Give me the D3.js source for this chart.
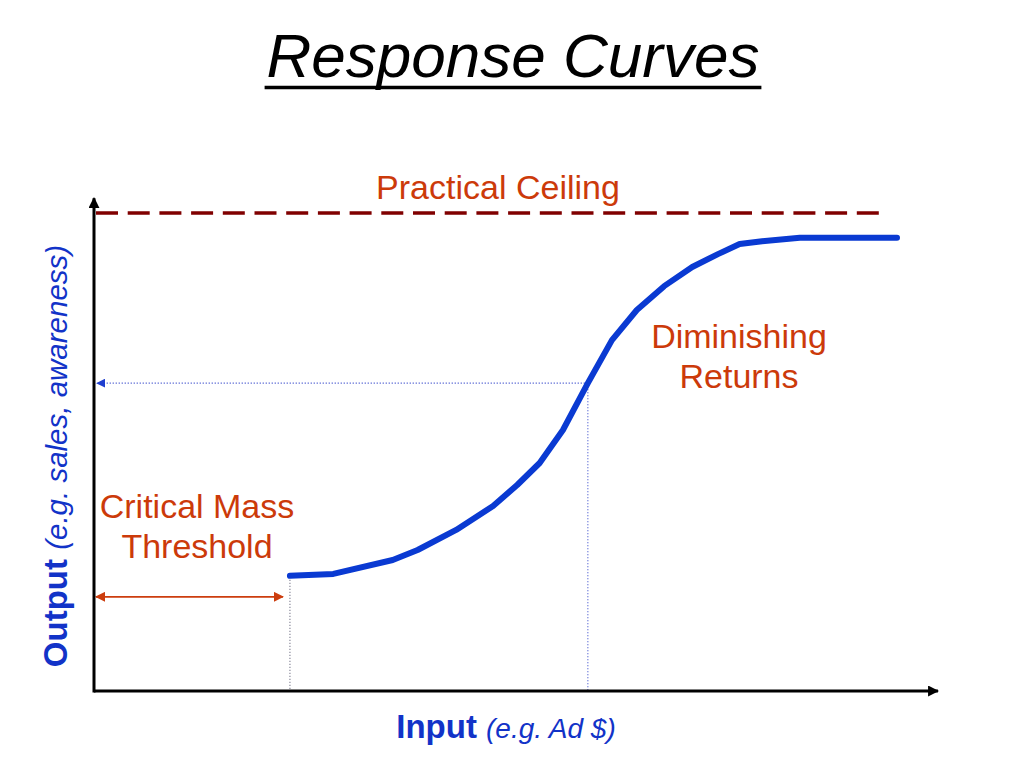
<!DOCTYPE html>
<html>
<head>
<meta charset="utf-8">
<script src="https://cdn.jsdelivr.net/npm/d3@7"></script>
<style>
  body { margin: 0; background: #fff; }
  text { font-family: "Liberation Sans", Arial, Helvetica, sans-serif; }
</style>
</head>
<body>
<div id="chart"></div>
<script>
// curve points (input 0-100, output 0-100, ceiling = 100)
var inputVals  = [24.4, 29.8, 37.2, 40.3, 45.1, 49.7, 52.7, 55.5, 58.4, 61.5, 64.5, 67.6, 71.0, 74.5, 77.7, 80.4, 83.2, 87.9, 100];
var outputVals = [24.1, 24.5, 27.4, 29.5, 33.7, 38.7, 43.1, 47.7, 54.6, 64.4, 73.4, 79.7, 84.7, 88.7, 91.4, 93.5, 94.1, 94.8, 94.8];
var ceilingVal = 100;
var thresholdInput = 24.4;
var thresholdArrowY = 19.7;
var diminishInput = 61.5;
var diminishOutput = 64.4;
var xAxisMax = 105.1;
var yAxisMax = 103.1;
var ceilingEnd = 98.3;

var width = 1024;
var height = 768;

var svg = d3.select('#chart')
    .append('svg')
    .attr('width', width)
    .attr('height', height);

var x = d3.scaleLinear().domain([0, 100]).range([94, 897]);
var y = d3.scaleLinear().domain([0, 100]).range([691, 213]);

// arrow heads
var defs = svg.append('defs');
function marker(id, color, size, orient) {
    defs.append('marker')
        .attr('id', id)
        .attr('viewBox', '0 0 10 10')
        .attr('refX', 9)
        .attr('refY', 5)
        .attr('markerUnits', 'userSpaceOnUse')
        .attr('markerWidth', size)
        .attr('markerHeight', size)
        .attr('orient', orient)
        .append('path')
        .attr('d', 'M0,0 L10,5 L0,10 Z')
        .attr('fill', color);
}
marker('arrowBlack', '#000', 11, 'auto');
marker('arrowRed', '#cc3d0e', 10, 'auto-start-reverse');
marker('arrowBlue', '#1f3fd0', 9, 'auto');

// title
var title = svg.append('text')
    .attr('x', 513)
    .attr('y', 77)
    .attr('text-anchor', 'middle')
    .style('font-size', '62px')
    .style('font-style', 'italic')
    .attr('fill', '#000')
    .text('Response Curves');
var tLen = title.node().getComputedTextLength();
svg.append('line')
    .attr('x1', 513 - tLen / 2 - 2)
    .attr('x2', 513 + tLen / 2 + 2)
    .attr('y1', 87.5)
    .attr('y2', 87.5)
    .attr('stroke', '#000')
    .attr('stroke-width', 3.5);

// ceiling
svg.append('line')
    .attr('x1', x(0) + 2)
    .attr('x2', x(ceilingEnd))
    .attr('y1', y(ceilingVal))
    .attr('y2', y(ceilingVal))
    .attr('stroke', '#800000')
    .attr('stroke-width', 3.3)
    .attr('stroke-dasharray', '22,9.7');

svg.append('text')
    .attr('x', 498)
    .attr('y', 199)
    .attr('text-anchor', 'middle')
    .style('font-size', '34px')
    .attr('fill', '#cc3a0a')
    .text('Practical Ceiling');

// dotted guides
svg.append('line')
    .attr('x1', x(thresholdInput))
    .attr('x2', x(thresholdInput))
    .attr('y1', y(outputVals[0]) + 4)
    .attr('y2', y(0))
    .attr('stroke', '#8a8a9a')
    .attr('stroke-width', 1.2)
    .attr('stroke-dasharray', '1.2,1.8');

svg.append('line')
    .attr('x1', x(diminishInput))
    .attr('x2', x(diminishInput))
    .attr('y1', y(diminishOutput))
    .attr('y2', y(0))
    .attr('stroke', '#4a5bd0')
    .attr('stroke-width', 1.2)
    .attr('stroke-dasharray', '1.2,1.8');

svg.append('line')
    .attr('x1', x(diminishInput))
    .attr('x2', x(0) + 3)
    .attr('y1', y(diminishOutput))
    .attr('y2', y(diminishOutput))
    .attr('stroke', '#4a5bd0')
    .attr('stroke-width', 1.2)
    .attr('stroke-dasharray', '1.2,1.8')
    .attr('marker-end', 'url(#arrowBlue)');

// critical mass arrow
svg.append('line')
    .attr('x1', x(0) + 2)
    .attr('x2', x(thresholdInput) - 7)
    .attr('y1', y(thresholdArrowY))
    .attr('y2', y(thresholdArrowY))
    .attr('stroke', '#cc3d0e')
    .attr('stroke-width', 1.8)
    .attr('marker-start', 'url(#arrowRed)')
    .attr('marker-end', 'url(#arrowRed)');

// axes
svg.append('line')
    .attr('x1', x(0))
    .attr('x2', x(xAxisMax))
    .attr('y1', y(0))
    .attr('y2', y(0))
    .attr('stroke', '#000')
    .attr('stroke-width', 3)
    .attr('marker-end', 'url(#arrowBlack)');

svg.append('line')
    .attr('x1', x(0))
    .attr('x2', x(0))
    .attr('y1', y(0) + 1.5)
    .attr('y2', y(yAxisMax))
    .attr('stroke', '#000')
    .attr('stroke-width', 3)
    .attr('marker-end', 'url(#arrowBlack)');

// response curve
var points = inputVals.map(function (d, i) {
    return [d, outputVals[i]];
});
var line = d3.line()
    .x(function (d) { return x(d[0]); })
    .y(function (d) { return y(d[1]); });

svg.append('path')
    .datum(points)
    .attr('d', line)
    .attr('fill', 'none')
    .attr('stroke', '#0a3ad2')
    .attr('stroke-width', 6)
    .attr('stroke-linecap', 'round')
    .attr('stroke-linejoin', 'round');

// annotations
function twoLines(cx, y1, y2, a, b) {
    var t = svg.append('text')
        .attr('text-anchor', 'middle')
        .style('font-size', '34px')
        .attr('fill', '#cc3a0a');
    t.append('tspan').attr('x', cx).attr('y', y1).text(a);
    t.append('tspan').attr('x', cx).attr('y', y2).text(b);
}
twoLines(739, 348, 388, 'Diminishing', 'Returns');
twoLines(197, 518, 558, 'Critical Mass', 'Threshold');

// axis labels
var xl = svg.append('text')
    .attr('x', 506)
    .attr('y', 738)
    .attr('text-anchor', 'middle')
    .attr('fill', '#1233c8');
xl.append('tspan').style('font-size', '33px').style('font-weight', 'bold').text('Input ');
xl.append('tspan').style('font-size', '28px').style('font-style', 'italic').text('(e.g. Ad $)');

var yl = svg.append('text')
    .attr('transform', 'translate(67,456) rotate(-90)')
    .attr('text-anchor', 'middle')
    .attr('fill', '#1233c8');
yl.append('tspan').style('font-size', '33px').style('font-weight', 'bold').text('Output ');
yl.append('tspan').style('font-size', '29.5px').style('font-style', 'italic').text('(e.g. sales, awareness)');
</script>
</body>
</html>
